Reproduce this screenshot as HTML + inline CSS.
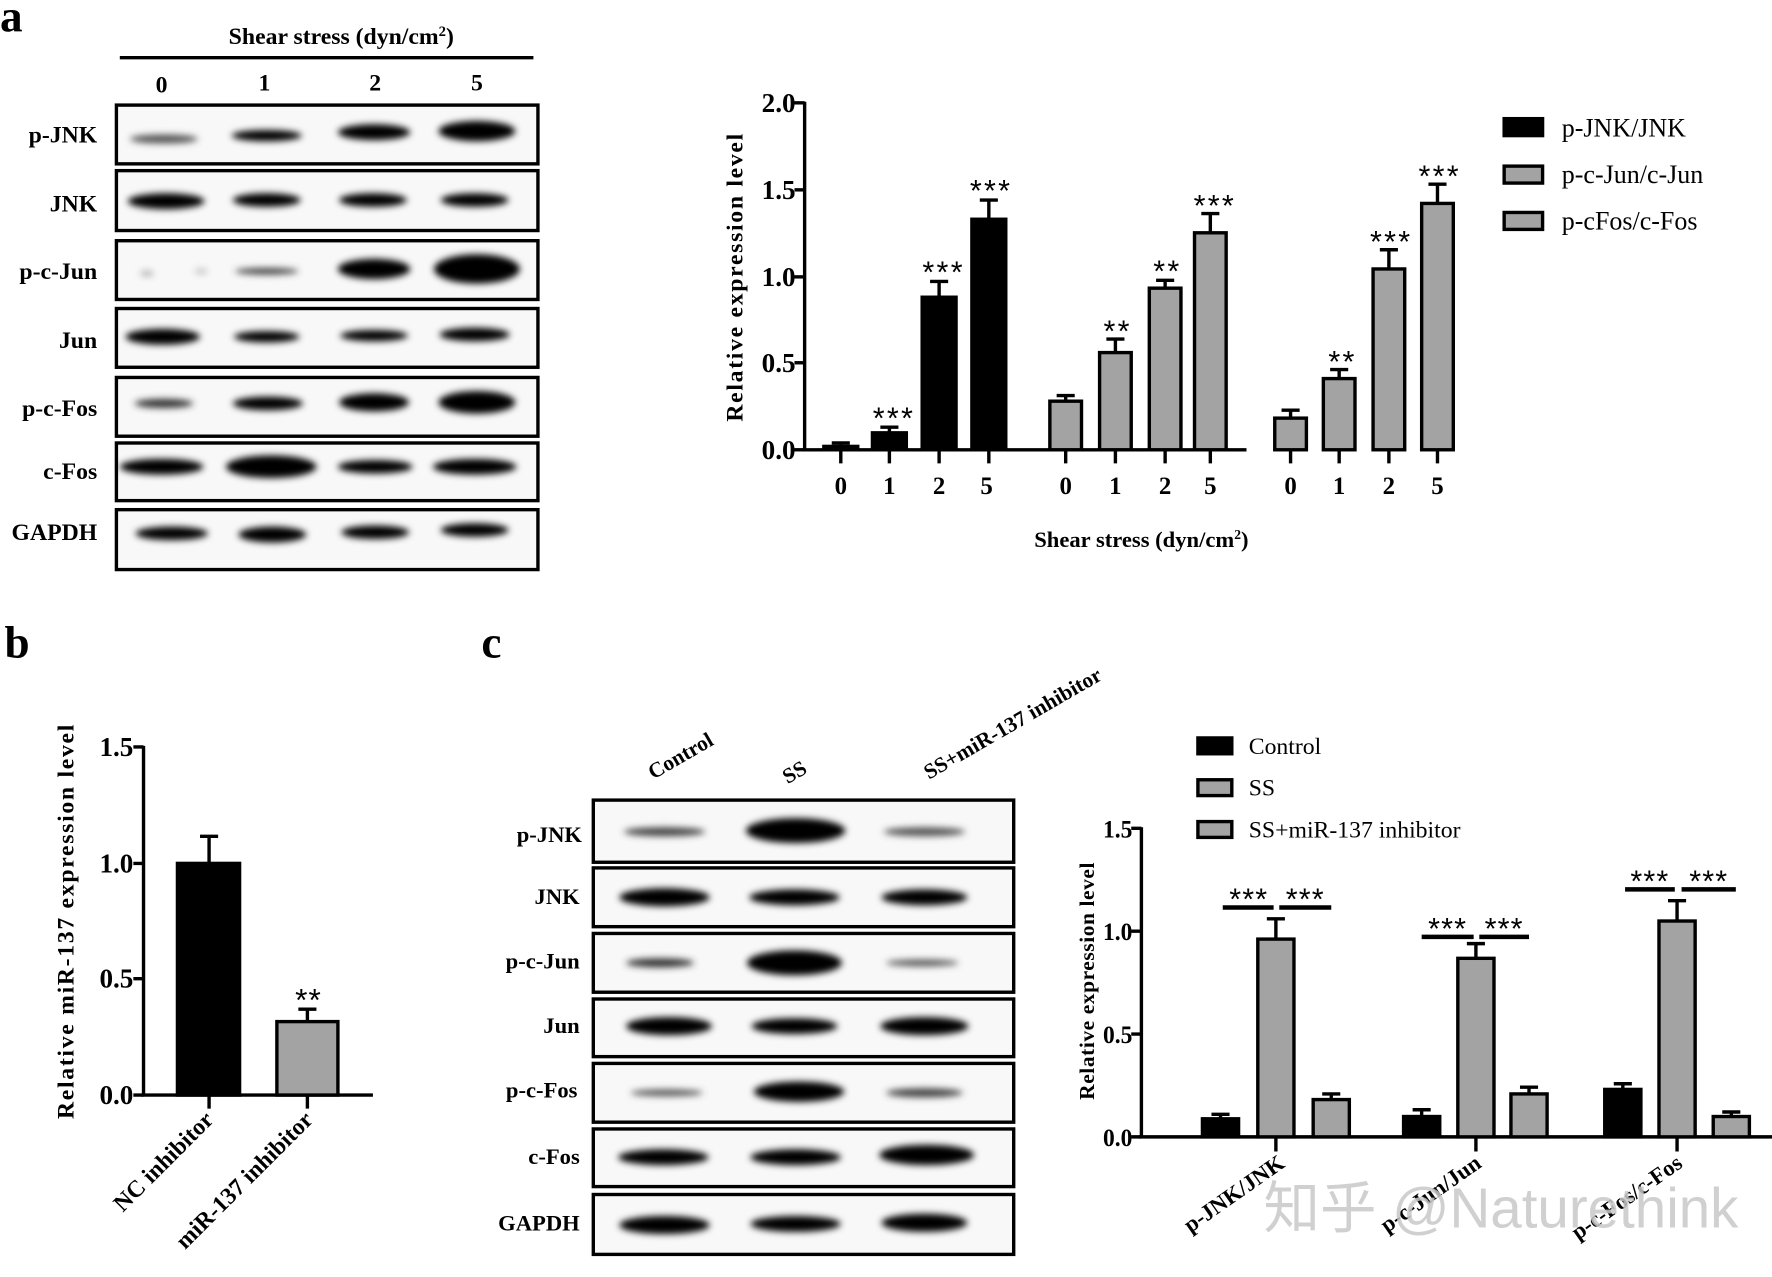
<!DOCTYPE html>
<html><head><meta charset="utf-8"><style>html,body{margin:0;padding:0;background:#fff}svg{display:block}</style></head><body>
<svg width="1772" height="1277" viewBox="0 0 1568 1130" xmlns="http://www.w3.org/2000/svg" font-family="'Liberation Serif',serif">
<defs><filter id="bl" x="-20%" y="-100%" width="140%" height="300%"><feGaussianBlur stdDeviation="3"/></filter></defs>
<rect width="1568" height="1130" fill="#fff"/>
<!-- Panel a blot -->
<text x="0" y="28" font-size="40" font-weight="bold">a</text>
<text x="302" y="39" font-size="21" font-weight="bold" text-anchor="middle">Shear stress (dyn/cm<tspan font-size="13" dy="-7">2</tspan><tspan dy="7">)</tspan></text>
<line x1="106" y1="51" x2="472" y2="51" stroke="#000" stroke-width="3"/>
<g font-size="21" font-weight="bold" text-anchor="middle"><text x="143" y="82">0</text><text x="234" y="80">1</text><text x="332" y="80">2</text><text x="422" y="80">5</text></g>
<g font-size="21" font-weight="bold" text-anchor="end">
<text x="86" y="126">p-JNK</text><text x="86" y="187">JNK</text><text x="86" y="247">p-c-Jun</text><text x="86" y="308">Jun</text><text x="86" y="368">p-c-Fos</text><text x="86" y="424">c-Fos</text><text x="86" y="478">GAPDH</text></g>
<g fill="#f8f8f8" stroke="#000" stroke-width="3">
<rect x="103" y="93" width="373" height="52"/><rect x="103" y="151" width="373" height="53"/><rect x="103" y="213" width="373" height="52"/><rect x="103" y="273" width="373" height="52"/><rect x="103" y="334" width="373" height="52"/><rect x="103" y="392" width="373" height="51"/><rect x="103" y="451" width="373" height="53"/></g>
<g fill="#000" filter="url(#bl)">
<ellipse cx="145" cy="123" rx="30" ry="4" fill="#555"/><ellipse cx="236" cy="120" rx="31" ry="5"/><ellipse cx="331" cy="117" rx="32" ry="7"/><ellipse cx="422" cy="116" rx="34" ry="9"/>
<ellipse cx="147" cy="178" rx="34" ry="7"/><ellipse cx="236" cy="177" rx="30" ry="6"/><ellipse cx="330" cy="177" rx="30" ry="6"/><ellipse cx="420" cy="177" rx="30" ry="6"/>
<ellipse cx="130" cy="242" rx="6" ry="3" fill="#bbb"/><ellipse cx="178" cy="240" rx="6" ry="3" fill="#ccc"/><ellipse cx="236" cy="240" rx="28" ry="3" fill="#444"/><ellipse cx="331" cy="238" rx="32" ry="9"/><ellipse cx="422" cy="238" rx="38" ry="13"/>
<ellipse cx="144" cy="298" rx="33" ry="7"/><ellipse cx="236" cy="298" rx="29" ry="5"/><ellipse cx="331" cy="297" rx="30" ry="5"/><ellipse cx="420" cy="296" rx="31" ry="6"/>
<ellipse cx="145" cy="357" rx="26" ry="4" fill="#333"/><ellipse cx="237" cy="357" rx="31" ry="6"/><ellipse cx="331" cy="356" rx="31" ry="8"/><ellipse cx="422" cy="356" rx="34" ry="10"/>
<ellipse cx="143" cy="413" rx="37" ry="7"/><ellipse cx="240" cy="413" rx="40" ry="10"/><ellipse cx="332" cy="413" rx="33" ry="6"/><ellipse cx="420" cy="413" rx="37" ry="7"/>
<ellipse cx="152" cy="472" rx="32" ry="6"/><ellipse cx="241" cy="473" rx="30" ry="7"/><ellipse cx="332" cy="471" rx="30" ry="6"/><ellipse cx="420" cy="469" rx="30" ry="6"/>
</g>
<!-- Panel a chart -->
<g stroke="#000" stroke-width="3" fill="none">
<line x1="712" y1="90" x2="712" y2="399"/><line x1="710" y1="398" x2="1103" y2="398"/>
<line x1="703" y1="91" x2="712" y2="91"/><line x1="703" y1="168" x2="712" y2="168"/><line x1="703" y1="245" x2="712" y2="245"/><line x1="703" y1="321" x2="712" y2="321"/><line x1="703" y1="398" x2="712" y2="398"/>
<path d="M744 398V410M787 398V410M831 398V410M875 398V410M943 398V410M987 398V410M1031 398V410M1071 398V410M1142 398V410M1185 398V410M1229 398V410M1272 398V410"/>
</g>
<g font-size="24" font-weight="bold" text-anchor="end"><text x="704" y="99" textLength="30" lengthAdjust="spacingAndGlyphs">2.0</text><text x="704" y="176" textLength="30" lengthAdjust="spacingAndGlyphs">1.5</text><text x="704" y="253" textLength="30" lengthAdjust="spacingAndGlyphs">1.0</text><text x="704" y="329" textLength="30" lengthAdjust="spacingAndGlyphs">0.5</text><text x="704" y="406" textLength="30" lengthAdjust="spacingAndGlyphs">0.0</text></g>
<g font-size="22" font-weight="bold" text-anchor="middle"><text x="744" y="437">0</text><text x="787" y="437">1</text><text x="831" y="437">2</text><text x="873" y="437">5</text><text x="943" y="437">0</text><text x="987" y="437">1</text><text x="1031" y="437">2</text><text x="1071" y="437">5</text><text x="1142" y="437">0</text><text x="1185" y="437">1</text><text x="1229" y="437">2</text><text x="1272" y="437">5</text></g>
<text x="1010" y="484" font-size="20" font-weight="bold" text-anchor="middle">Shear stress (dyn/cm<tspan font-size="12" dy="-7">2</tspan><tspan dy="7">)</tspan></text>
<text transform="translate(657,245) rotate(-90)" font-size="21" font-weight="bold" text-anchor="middle" letter-spacing="1.5">Relative expression level</text>
<g stroke="#000" stroke-width="3">
<path fill="none" d="M744 395V392M736 392H752M787 383V378M779 378H795M831 263V249M823 249H839M875 194V177M867 177H883M943 355V350M935 350H951M987 312V300M979 300H995M1031 255V248M1023 248H1039M1071 206V189M1063 189H1079M1142 370V363M1134 363H1150M1185 335V327M1177 327H1193M1229 238V221M1221 221H1237M1272 180V163M1264 163H1280"/>
<g fill="#000"><rect x="729" y="395" width="30" height="3"/><rect x="772" y="383" width="30" height="15"/><rect x="816" y="263" width="30" height="135"/><rect x="860" y="194" width="30" height="204"/></g>
<g fill="#a3a3a3"><rect x="929" y="355" width="28" height="43"/><rect x="973" y="312" width="28" height="86"/><rect x="1017" y="255" width="28" height="143"/><rect x="1057" y="206" width="28" height="192"/><rect x="1128" y="370" width="28" height="28"/><rect x="1171" y="335" width="28" height="63"/><rect x="1215" y="238" width="28" height="160"/><rect x="1258" y="180" width="28" height="218"/></g>
</g>
<g font-size="27" text-anchor="middle" letter-spacing="2" font-family="'Liberation Sans',sans-serif"><text x="791" y="379">***</text><text x="835" y="250">***</text><text x="877" y="178">***</text><text x="989" y="302">**</text><text x="1033" y="249">**</text><text x="1075" y="191">***</text><text x="1188" y="329">**</text><text x="1231" y="223">***</text><text x="1274" y="165">***</text></g>
<g stroke="#000" stroke-width="3"><rect x="1331" y="105" width="34" height="15" fill="#000"/><rect x="1331" y="147" width="34" height="15" fill="#a3a3a3"/><rect x="1331" y="188" width="34" height="15" fill="#a3a3a3"/></g>
<g font-size="23"><text x="1382" y="121">p-JNK/JNK</text><text x="1382" y="162">p-c-Jun/c-Jun</text><text x="1382" y="203">p-cFos/c-Fos</text></g>
<!-- Panel b -->
<text x="4" y="582" font-size="40" font-weight="bold">b</text>
<g stroke="#000" stroke-width="3" fill="none">
<line x1="127" y1="660" x2="127" y2="970"/><line x1="125" y1="969" x2="330" y2="969"/>
<path d="M118 661H127M118 764H127M118 866H127M118 969H127M185 969V981M272 969V981M185 764V740M177 740H193M272 904V893M264 893H280"/>
<rect x="157" y="764" width="55" height="205" fill="#000"/><rect x="245" y="904" width="54" height="65" fill="#a3a3a3"/>
</g>
<g font-size="24" font-weight="bold" text-anchor="end"><text x="118" y="669" textLength="30" lengthAdjust="spacingAndGlyphs">1.5</text><text x="118" y="772" textLength="30" lengthAdjust="spacingAndGlyphs">1.0</text><text x="118" y="874" textLength="30" lengthAdjust="spacingAndGlyphs">0.5</text><text x="118" y="977" textLength="30" lengthAdjust="spacingAndGlyphs">0.0</text></g>
<text x="273" y="894" font-size="28" text-anchor="middle" letter-spacing="1" font-family="'Liberation Sans',sans-serif">**</text>
<text transform="translate(65,815) rotate(-90)" font-size="21" font-weight="bold" text-anchor="middle" letter-spacing="1.5">Relative  miR-137 expression level</text>
<g font-size="21" font-weight="bold" text-anchor="end"><text transform="translate(190,992) rotate(-45)">NC inhibitor</text><text transform="translate(278,992) rotate(-45)">miR-137 inhibitor</text></g>
<!-- Panel c blot -->
<text x="426" y="582" font-size="40" font-weight="bold">c</text>
<g font-size="19" font-weight="bold"><text transform="translate(578,690) rotate(-30)">Control</text><text transform="translate(697,694) rotate(-30)">SS</text><text transform="translate(822,690) rotate(-30)">SS+miR-137  inhibitor</text></g>
<g font-size="20" font-weight="bold" text-anchor="end">
<text x="515" y="745">p-JNK</text><text x="513" y="800">JNK</text><text x="513" y="857">p-c-Jun</text><text x="513" y="914">Jun</text><text x="511" y="971">p-c-Fos</text><text x="513" y="1030">c-Fos</text><text x="513" y="1089">GAPDH</text></g>
<g fill="#f8f8f8" stroke="#000" stroke-width="3">
<rect x="525" y="708" width="372" height="55"/><rect x="525" y="768" width="372" height="52"/><rect x="525" y="826" width="372" height="52"/><rect x="525" y="884" width="372" height="51"/><rect x="525" y="941" width="372" height="52"/><rect x="525" y="999" width="372" height="51"/><rect x="525" y="1057" width="372" height="53"/></g>
<g fill="#000" filter="url(#bl)">
<ellipse cx="588" cy="736" rx="36" ry="4" fill="#444"/><ellipse cx="704" cy="735" rx="44" ry="11"/><ellipse cx="818" cy="736" rx="36" ry="4" fill="#555"/>
<ellipse cx="588" cy="794" rx="40" ry="8"/><ellipse cx="703" cy="794" rx="40" ry="7"/><ellipse cx="818" cy="794" rx="38" ry="7"/>
<ellipse cx="584" cy="852" rx="30" ry="4" fill="#333"/><ellipse cx="703" cy="852" rx="42" ry="11"/><ellipse cx="816" cy="852" rx="32" ry="3" fill="#555"/>
<ellipse cx="592" cy="908" rx="38" ry="8"/><ellipse cx="703" cy="908" rx="38" ry="7"/><ellipse cx="818" cy="908" rx="39" ry="8"/>
<ellipse cx="590" cy="967" rx="32" ry="3" fill="#555"/><ellipse cx="707" cy="966" rx="40" ry="9"/><ellipse cx="818" cy="967" rx="34" ry="4" fill="#444"/>
<ellipse cx="587" cy="1024" rx="40" ry="7"/><ellipse cx="704" cy="1024" rx="40" ry="7"/><ellipse cx="820" cy="1022" rx="42" ry="9"/>
<ellipse cx="588" cy="1084" rx="40" ry="8"/><ellipse cx="704" cy="1083" rx="40" ry="7"/><ellipse cx="818" cy="1082" rx="38" ry="8"/>
</g>
<!-- Panel c chart -->
<g stroke="#000" stroke-width="3"><rect x="1060" y="653" width="30" height="14" fill="#000"/><rect x="1060" y="690" width="30" height="14" fill="#a3a3a3"/><rect x="1060" y="727" width="30" height="14" fill="#a3a3a3"/></g>
<g font-size="21"><text x="1105" y="667">Control</text><text x="1105" y="704">SS</text><text x="1105" y="741">SS+miR-137 inhibitor</text></g>
<g stroke="#000" stroke-width="3" fill="none">
<line x1="1010" y1="732" x2="1010" y2="1007"/><line x1="1008" y1="1006" x2="1568" y2="1006"/>
<path d="M1001 733H1010M1001 824H1010M1001 915H1010M1001 1006H1010M1129 1006V1019M1306 1006V1019M1484 1006V1019"/>
<path d="M1080 990V986M1072 986H1088M1129 831V813M1121 813H1137M1178 973V968M1170 968H1186M1258 988V982M1250 982H1266M1306 848V835M1298 835H1314M1353 968V962M1345 962H1361M1436 964V959M1428 959H1444M1484 815V797M1476 797H1492M1532 988V984M1524 984H1540"/>
<rect x="1064" y="990" width="32" height="16" fill="#000"/><rect x="1113" y="831" width="32" height="175" fill="#a3a3a3"/><rect x="1162" y="973" width="32" height="33" fill="#a3a3a3"/>
<rect x="1242" y="988" width="32" height="18" fill="#000"/><rect x="1290" y="848" width="32" height="158" fill="#a3a3a3"/><rect x="1337" y="968" width="32" height="38" fill="#a3a3a3"/>
<rect x="1420" y="964" width="32" height="42" fill="#000"/><rect x="1468" y="815" width="32" height="191" fill="#a3a3a3"/><rect x="1516" y="988" width="32" height="18" fill="#a3a3a3"/>
<path d="M1082 803H1127M1132 803H1178M1258 829H1304M1309 829H1353M1438 787H1482M1488 787H1536" stroke-width="4"/>
</g>
<g font-size="27" text-anchor="middle" letter-spacing="1" font-family="'Liberation Sans',sans-serif"><text x="1105" y="805">***</text><text x="1155" y="805">***</text><text x="1281" y="831">***</text><text x="1331" y="831">***</text><text x="1460" y="789">***</text><text x="1512" y="789">***</text></g>
<g font-size="22" font-weight="bold" text-anchor="end"><text x="1002" y="741" textLength="26" lengthAdjust="spacingAndGlyphs">1.5</text><text x="1002" y="832" textLength="26" lengthAdjust="spacingAndGlyphs">1.0</text><text x="1002" y="923" textLength="26" lengthAdjust="spacingAndGlyphs">0.5</text><text x="1002" y="1014" textLength="26" lengthAdjust="spacingAndGlyphs">0.0</text></g>
<text transform="translate(968,868) rotate(-90)" font-size="19" font-weight="bold" text-anchor="middle" letter-spacing="0.5">Relative expression level</text>
<g font-size="20" font-weight="bold" text-anchor="end"><text transform="translate(1138,1032) rotate(-35)">p-JNK/JNK</text><text transform="translate(1312,1032) rotate(-35)">p-c-Jun/Jun</text><text transform="translate(1490,1032) rotate(-35)">p-c-Fos/c-Fos</text></g>
<text x="1118" y="1086" font-size="50" fill="#c8c8c8" fill-opacity="0.85" font-family="'Liberation Sans','Noto Sans CJK SC',sans-serif">知乎 @Naturethink</text>
</svg>
</body></html>
